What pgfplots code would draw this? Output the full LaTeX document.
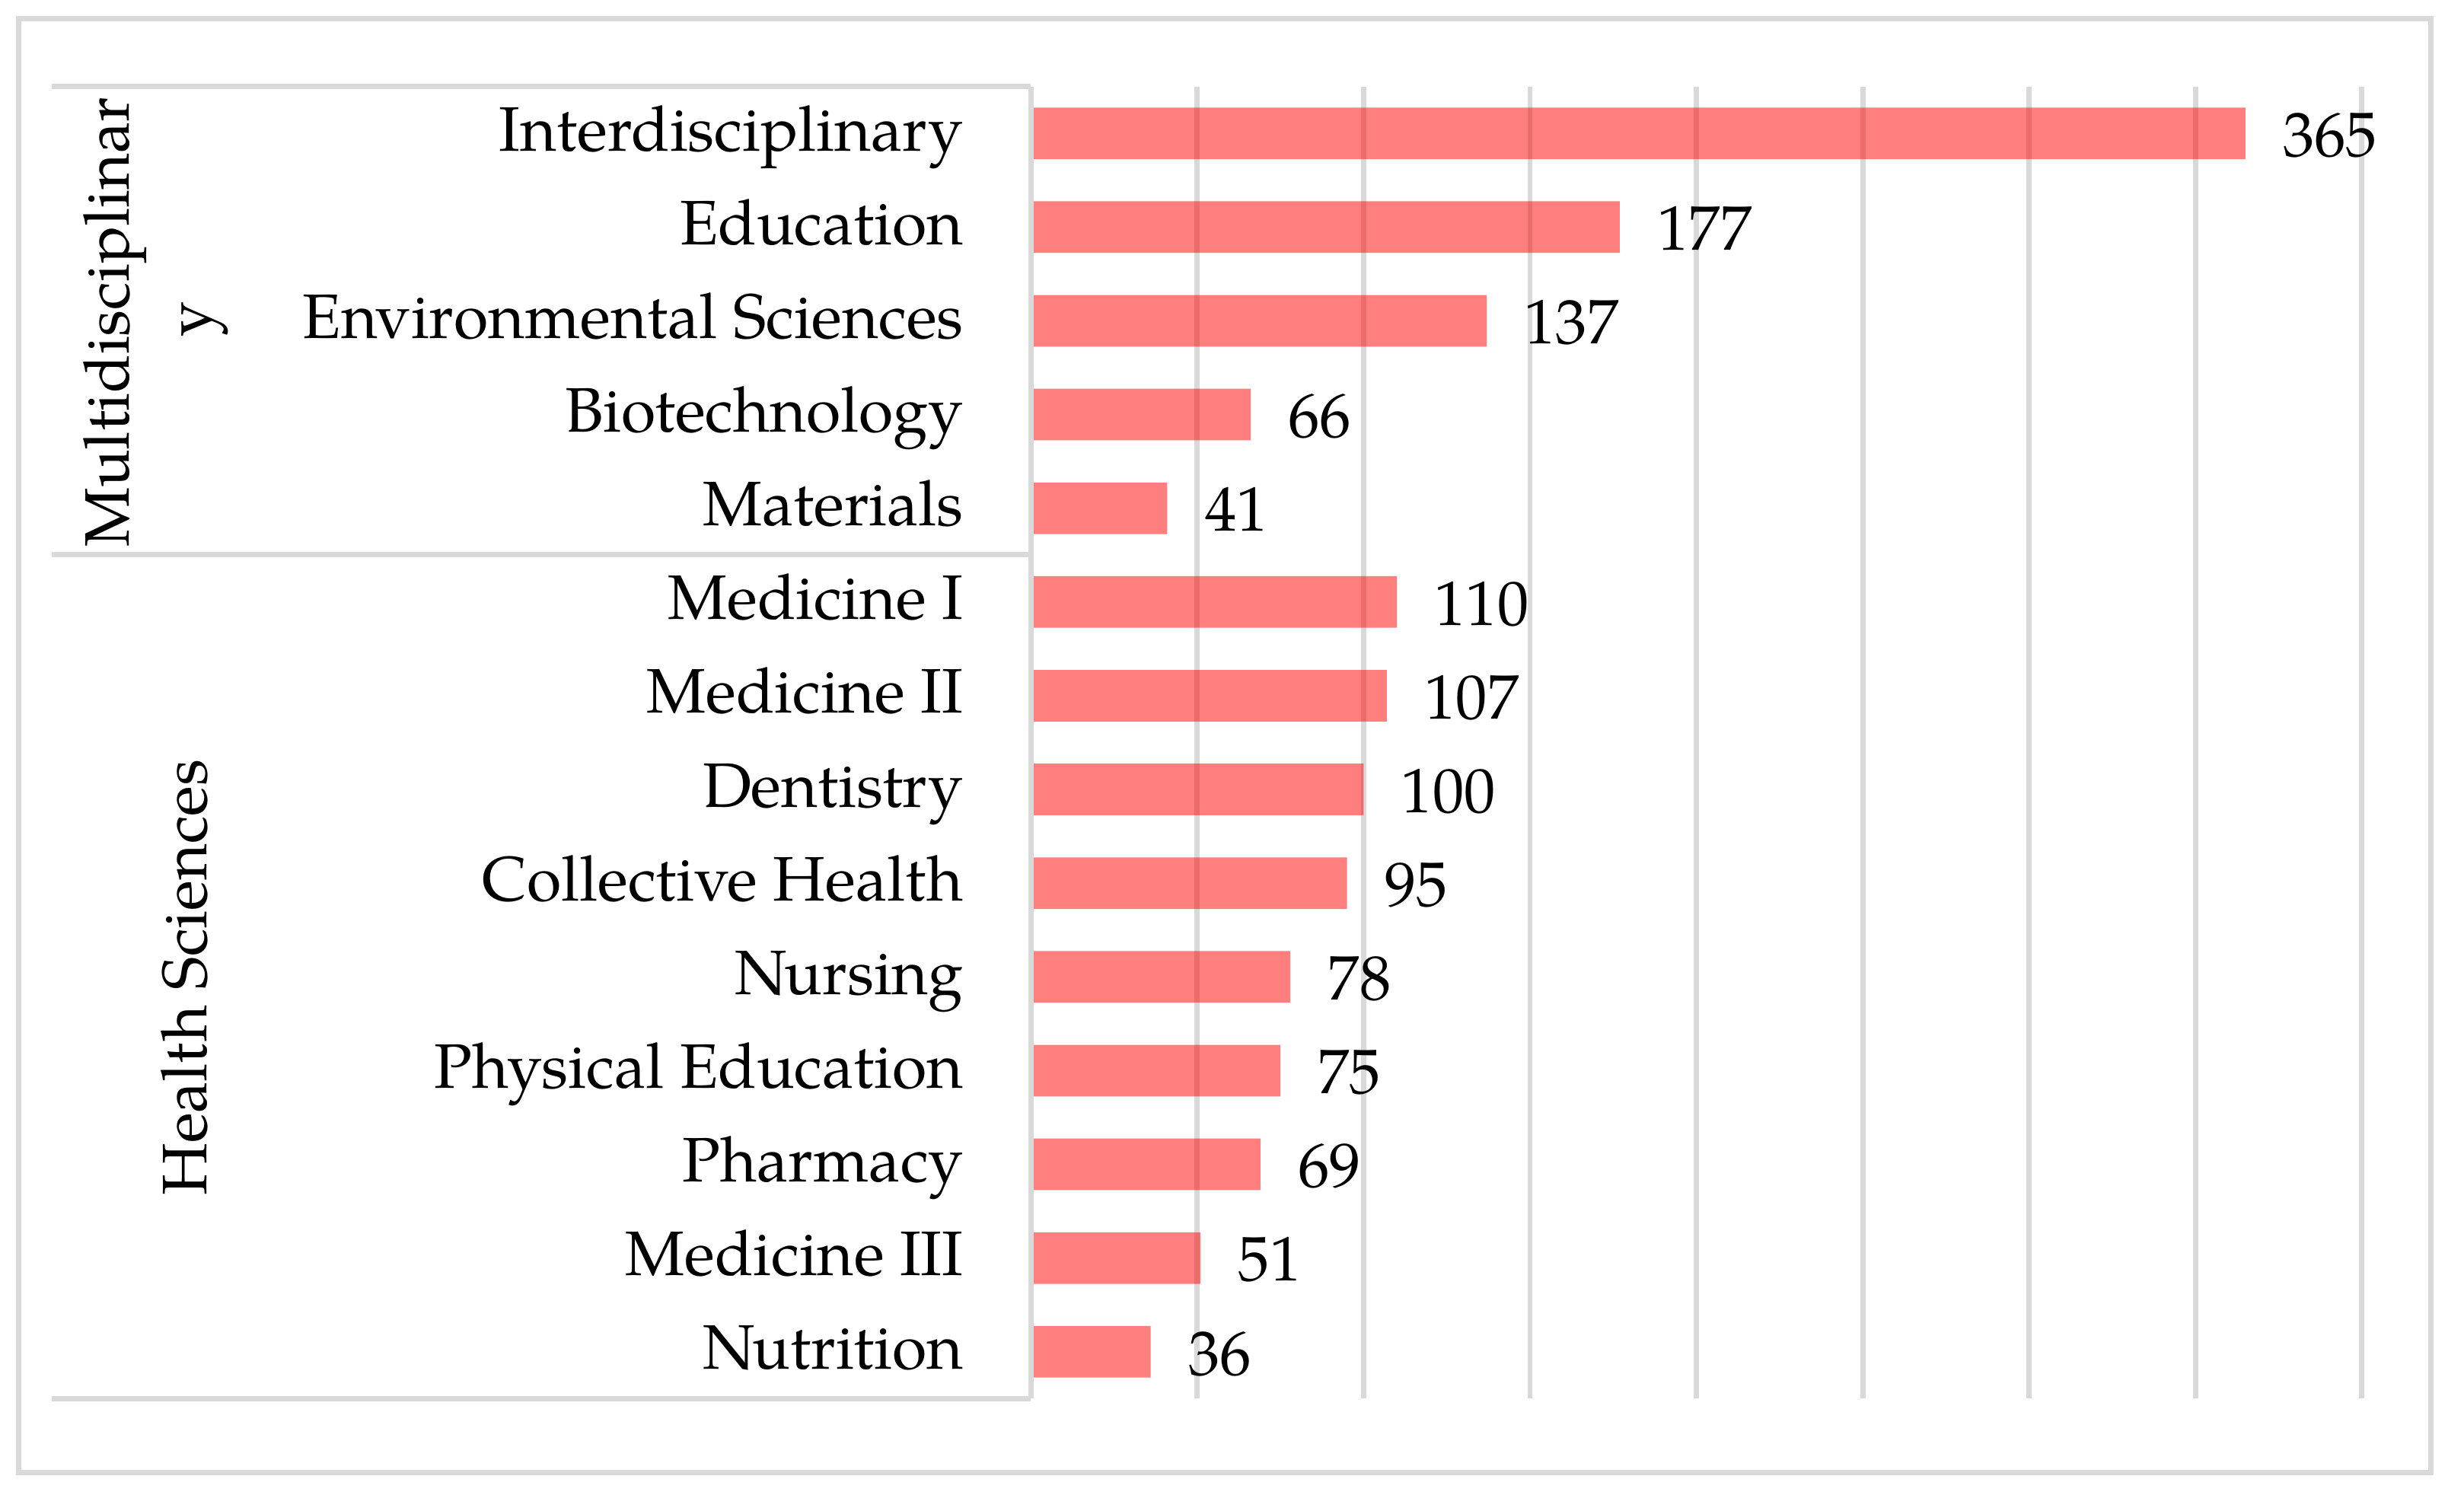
\documentclass[border=0pt]{standalone}
\usepackage{fontspec}
\setmainfont{TeX Gyre Pagella}
\usepackage{pgfplots}
\pgfplotsset{compat=1.18}
\definecolor{gridgray}{HTML}{D9D9D9}

\begin{document}
\begin{tikzpicture}[x=1pt, y=1pt, font=\fontsize{12}{14.4}\selectfont]
  % page area and outer frame
  \path (-196.8,-17.7) rectangle (273.6,267);
  \draw[gridgray, line width=1pt] (-193.2,-14.1) rectangle (267.3,263.4);

  \begin{axis}[
      at={(0,0)}, anchor=south west,
      scale only axis, width=254.1pt, height=250.5pt,
      xbar, bar width=0.55,
      xmin=0, xmax=400, ymin=0.5, ymax=14.5, y dir=reverse,
      xtick={0,50,...,400}, xticklabels={},
      ytick={1,...,14},
      yticklabels={Interdisciplinary, Education, Environmental Sciences,
        Biotechnology, Materials, Medicine I, Medicine II, Dentistry,
        Collective Health, Nursing, Physical Education, Pharmacy,
        Medicine III, Nutrition},
      yticklabel style={anchor=base east, inner sep=0pt, xshift=-8.4pt, yshift=-3.35pt},
      tick style={draw=none},
      axis line style={draw=none},
      xmajorgrids, grid style={gridgray, line width=1pt},
      nodes near coords, nodes near coords align={horizontal},
      every node near coord/.append style={anchor=base west, inner sep=0pt,
        xshift=7pt, yshift=-4.4pt, text=black, text opacity=1},
      /pgf/number format/assume math mode=true,
      clip=false,
    ]
    \addplot[fill=red, fill opacity=0.5, draw=none] coordinates {
      (365,1) (177,2) (137,3) (66,4) (41,5)
      (110,6) (107,7) (100,8) (95,9) (78,10)
      (75,11) (69,12) (51,13) (36,14)
    };
  \end{axis}

  % category table lines
  \draw[gridgray, line width=1pt] (-186.9,250.5) -- (0,250.5);
  \draw[gridgray, line width=1pt] (-186.9,161.1) -- (0,161.1);
  \draw[gridgray, line width=1pt] (-186.9,0) -- (0,0);
  \draw[gridgray, line width=1pt] (0,0) -- (0,250.5);

  % group labels
  \node[rotate=90, anchor=base, inner sep=0pt] at (-172.2,205.5) {Multidisciplinar};
  \node[rotate=90, anchor=base, inner sep=0pt] at (-156.6,206.1) {y};
  \node[rotate=90, anchor=base, inner sep=0pt] at (-157.4,80.4) {Health Sciences};
\end{tikzpicture}
\end{document}
